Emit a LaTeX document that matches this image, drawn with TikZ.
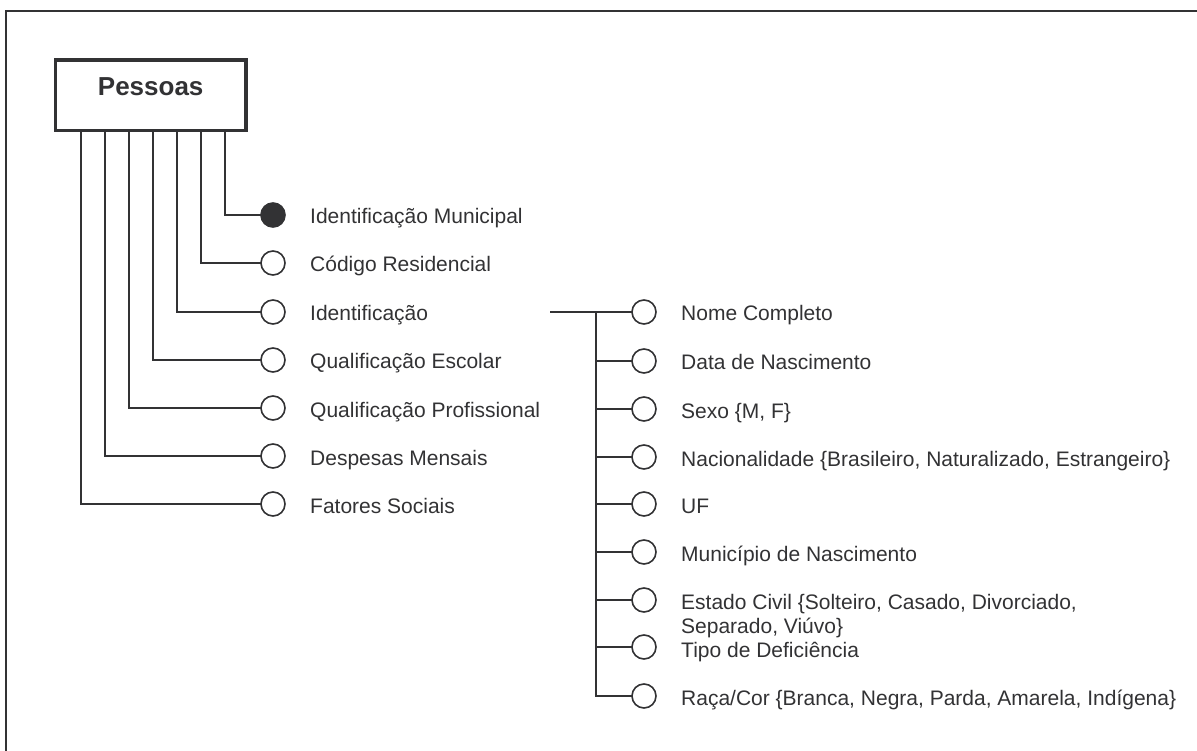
\documentclass[tikz,border=0pt]{standalone}
\usepackage{fontspec}
\setmainfont{Liberation Sans}
\definecolor{ink}{RGB}{50,50,52}
\begin{document}
\begin{tikzpicture}[x=1pt,y=-1pt,
  conn/.style={draw=ink,line width=1.6pt},
  attr/.style={circle,draw=ink,line width=1.6pt,fill=white,minimum size=24pt,inner sep=0pt,outer sep=0pt},
  keyattr/.style={attr,fill=ink},
  lbl/.style={anchor=base west,inner sep=0pt,text=ink,font=\fontsize{21}{24}\selectfont},
  entity/.style={draw=ink,line width=3.6pt,fill=white,minimum width=190.7pt,minimum height=70.7pt,
    inner sep=0pt,outer sep=0pt,font=\bfseries\fontsize{26}{30}\selectfont,text=ink,text depth=17pt}]
\useasboundingbox (0,0) rectangle (1197,751);

% outer frame (only top and left edges fall inside the page)
\draw[ink,line width=2.2pt] (6.3,760) -- (6.3,10.7) -- (1205,10.7);

% entity
\node[entity] (pessoas) at (150.7,95.3) {Pessoas};

% attributes of Pessoas
\node[keyattr] (a1) at (273,215) {};
\node[attr] (a2) at (273,263) {};
\node[attr] (a3) at (273,312) {};
\node[attr] (a4) at (273,360) {};
\node[attr] (a5) at (273,408) {};
\node[attr] (a6) at (273,456) {};
\node[attr] (a7) at (273,504) {};

\node[lbl] (t1) at (310,224) {Identificação Municipal};
\node[lbl] (t2) at (310,272) {Código Residencial};
\node[lbl] (t3) at (310,321) {Identificação};
\node[lbl] (t4) at (310,369) {Qualificação Escolar};
\node[lbl] (t5) at (310,417) {Qualificação Profissional};
\node[lbl] (t6) at (310,465) {Despesas Mensais};
\node[lbl] (t7) at (310,513) {Fatores Sociais};

\foreach \i/\x in {1/225,2/201,3/177,4/153,5/129,6/105,7/81}
  \draw[conn] (\x,0 |- pessoas.south) |- (a\i.west);

% sub-attributes of Identificação
\coordinate (idout) at (550,312);
\coordinate (bus) at (596,312);

\node[attr] (b1) at (644,312) {};
\node[attr] (b2) at (644,361) {};
\node[attr] (b3) at (644,409) {};
\node[attr] (b4) at (644,457) {};
\node[attr] (b5) at (644,504) {};
\node[attr] (b6) at (644,552) {};
\node[attr] (b7) at (644,600) {};
\node[attr] (b8) at (644,647) {};
\node[attr] (b9) at (644,696) {};

\node[lbl] (u1) at (681,321) {Nome Completo};
\node[lbl] (u2) at (681,370) {Data de Nascimento};
\node[lbl] (u3) at (681,418) {Sexo \{M, F\}};
\node[lbl] (u4) at (681,466) {Nacionalidade \{Brasileiro, Naturalizado, Estrangeiro\}};
\node[lbl] (u5) at (681,513) {UF};
\node[lbl] (u6) at (681,561) {Município de Nascimento};
\node[lbl] (u7) at (681,609) {\parbox[t]{500pt}{\raggedright Estado Civil \{Solteiro, Casado, Divorciado,\\Separado, Viúvo\}}};
\node[lbl] (u8) at (681,657) {Tipo de Deficiência};
\node[lbl] (u9) at (681,705) {Raça/Cor \{Branca, Negra, Parda, Amarela, Indígena\}};

\draw[conn] (idout) -- (b1.west);
\draw[conn] (bus) |- (b9.west);
\foreach \i in {2,...,8}
  \draw[conn] (b\i.west -| bus) -- (b\i.west);
\end{tikzpicture}
\end{document}
